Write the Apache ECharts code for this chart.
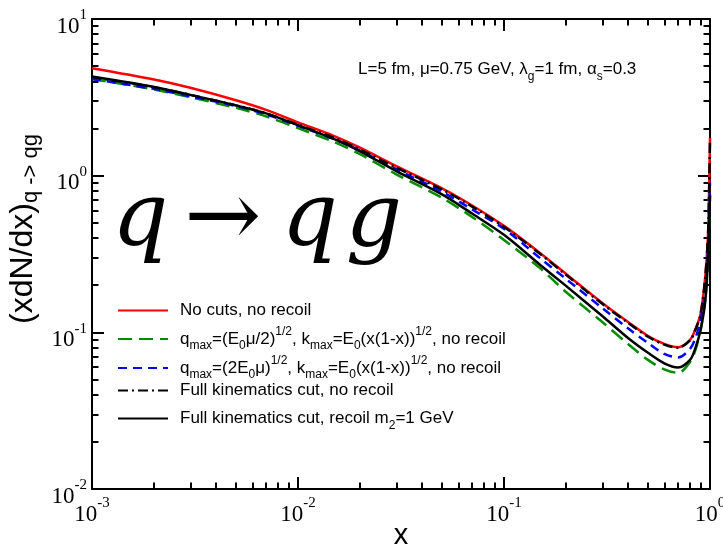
<!DOCTYPE html>
<html><head><meta charset="utf-8">
<script src="https://cdn.jsdelivr.net/npm/echarts@6/dist/echarts.min.js"></script>
<style>html,body{margin:0;padding:0;background:#fff}#c{width:723px;height:546px}</style>
</head><body><div id="c"></div>
<script>
// ---- data ----
const xValues = [0.001,0.002,0.003,0.005,0.007,0.01,0.015,0.02,0.03,0.05,0.07,0.1,0.15,0.2,0.3,0.4,0.5,0.6,0.7,0.8,0.85,0.9,0.95,0.98,0.99,1.0];
const noCuts       = [4.85,4.11,3.64,3.03,2.63,2.19,1.79,1.51,1.15,0.83,0.645,0.478,0.32,0.236,0.154,0.1164,0.0948,0.0843,0.0803,0.0895,0.105,0.131,0.232,0.45,0.81,1.74];
const qmaxHalf     = [4.14,3.55,3.17,2.71,2.39,2.01,1.64,1.37,1.02,0.722,0.545,0.389,0.256,0.181,0.1164,0.0843,0.0667,0.058,0.0551,0.0647,0.0773,0.1035,0.166,0.31,0.48,0.75];
const qmaxTwo      = [4.14,3.58,3.21,2.78,2.46,2.08,1.71,1.445,1.10,0.789,0.609,0.458,0.297,0.219,0.143,0.106,0.0855,0.0728,0.0692,0.0784,0.092,0.12,0.187,0.36,0.56,0.9];
const fullNoRecoil = [4.26,3.67,3.28,2.81,2.50,2.11,1.74,1.47,1.125,0.818,0.635,0.471,0.316,0.233,0.152,0.115,0.0938,0.0835,0.0797,0.0888,0.104,0.13,0.23,0.45,0.8,1.7];
const fullRecoil   = [4.29,3.68,3.28,2.81,2.50,2.10,1.71,1.43,1.07,0.76,0.573,0.419,0.269,0.198,0.127,0.092,0.074,0.0634,0.0597,0.0667,0.0796,0.1035,0.161,0.312,0.484,0.75];
const seriesNames = [
  'No cuts, no recoil',
  'q_max=(E_0 mu/2)^1/2, k_max=E_0(x(1-x))^1/2, no recoil',
  'q_max=(2E_0 mu)^1/2, k_max=E_0(x(1-x))^1/2, no recoil',
  'Full kinematics cut, no recoil',
  'Full kinematics cut, recoil m_2=1 GeV'
];
const legendRich = [
  '{t|No cuts, no recoil}',
  '{t|q}{sb|max}{t|=(E}{sb|0}{t|μ/2)}{sp|1/2}{t|, k}{sb|max}{t|=E}{sb|0}{t|(x(1-x))}{sp|1/2}{t|, no recoil}',
  '{t|q}{sb|max}{t|=(2E}{sb|0}{t|μ)}{sp|1/2}{t|, k}{sb|max}{t|=E}{sb|0}{t|(x(1-x))}{sp|1/2}{t|, no recoil}',
  '{t|Full kinematics cut, no recoil}',
  '{t|Full kinematics cut, recoil m}{sb|2}{t|=1 GeV}'
];
const xMin = 0.001, xMax = 1, yMin = 0.01, yMax = 10;
const xMinorTicks = [0.002,0.003,0.004,0.005,0.006,0.007,0.008,0.009,0.02,0.03,0.04,0.05,0.06,0.07,0.08,0.09,0.2,0.3,0.4,0.5,0.6,0.7,0.8,0.9];
const yMinorTicks = [0.02,0.03,0.04,0.05,0.06,0.07,0.08,0.09,0.2,0.3,0.4,0.5,0.6,0.7,0.8,0.9,2,3,4,5,6,7,8,9];
const annotationText = '{t|L=5 fm, μ=0.75 GeV, λ}{sb|g}{t|=1 fm, α}{sb|s}{t|=0.3}';
const bigLabel = '{q|q}{a|→}{q2|q}{q|g}';

// ---- styles ----
const colors = ['#ff0000','#008c00','#0000ff','#000000','#000000'];
const dashes = ['solid',[14,7],[9,6],[10,4,2,4],'solid'];
const legendIconY = [309,338,367,389,417];
const legendTopOffset = [7,12,12,7,7];
const sansRich = {
  t:{fontFamily:'Liberation Sans',fontSize:17,lineHeight:26,verticalAlign:'middle',color:'#000'},
  sp:{fontFamily:'Liberation Sans',fontSize:12,lineHeight:12,verticalAlign:'top',color:'#000'},
  sb:{fontFamily:'Liberation Sans',fontSize:12,lineHeight:12,verticalAlign:'bottom',color:'#000'}
};
const tickRich = {
  b:{fontFamily:'Liberation Serif',fontSize:23,lineHeight:30,verticalAlign:'bottom',color:'#000'},
  s:{fontFamily:'Liberation Serif',fontSize:15,lineHeight:15,verticalAlign:'top',color:'#000'}
};
const powLabel = v => '{b|10}{s|' + Math.round(Math.log10(v)) + '}';
const lineCol = '#000';

function axisPair(kind, pos, isMain){
  const min = kind==='x'?xMin:yMin, max = kind==='x'?xMax:yMax;
  const major = {
    type:'log', logBase:10, min, max, position:pos, gridIndex:0,
    nameMoveOverlap:false,
    axisLine:{show:true,onZero:false,lineStyle:{color:lineCol,width:2}},
    axisTick:{show:true,inside:true,length:12,lineStyle:{color:lineCol,width:2}},
    minorTick:{show:false}, splitLine:{show:false},
    axisLabel:{show:false}
  };
  if (isMain){
    major.axisLabel = kind==='x'
      ? {show:true,formatter:powLabel,rich:tickRich,margin:7}
      : {show:true,formatter:powLabel,rich:tickRich,margin:5,padding:[8,0,0,0]};
  }
  const minor = {
    type:'log', logBase:10, min, max, position:pos, gridIndex:0,
    axisLine:{show:false},
    axisTick:{show:true,inside:true,length:6.5,customValues:(kind==='x'?xMinorTicks:yMinorTicks),lineStyle:{color:lineCol,width:2}},
    axisLabel:{show:false}, splitLine:{show:false}
  };
  return [major, minor];
}

const xAxes = [...axisPair('x','bottom',true), ...axisPair('x','top',false)];
const yAxes = [...axisPair('y','left',true), ...axisPair('y','right',false)];
xAxes[0].name = 'x';
xAxes[0].nameLocation = 'middle';
xAxes[0].nameGap = 32;
xAxes[0].nameTextStyle = {fontFamily:'Liberation Sans',fontSize:29,color:'#000'};
yAxes[0].name = '{m|(xdN/dx)}{s|q -> qg}';
yAxes[0].nameLocation = 'middle';
yAxes[0].nameGap = 50;
yAxes[0].nameTextStyle = {
  padding:[0,0,0,50],
  rich:{
    m:{fontFamily:'Liberation Sans',fontSize:32,lineHeight:37,verticalAlign:'middle',color:'#000'},
    s:{fontFamily:'Liberation Sans',fontSize:22,lineHeight:22,verticalAlign:'bottom',color:'#000'}
  }
};

const allSeries = [noCuts,qmaxHalf,qmaxTwo,fullNoRecoil,fullRecoil];
const series = allSeries.map((arr,i)=>({
  name: seriesNames[i], type:'line', xAxisIndex:0, yAxisIndex:0,
  data: xValues.map((x,j)=>[x,arr[j]]),
  showSymbol:false, symbol:'none', smooth:0.3, clip:true,
  lineStyle:{color:colors[i],width:2.5,type:dashes[i]},
  itemStyle:{color:colors[i]},
  z: 2+i
}));

const legends = seriesNames.map((n,i)=>({
  data:[n], orient:'vertical', left:117, top:legendIconY[i]-legendTopOffset[i], padding:0,
  itemWidth:50, itemHeight:14,
  selectedMode:false,
  itemStyle:{opacity:0},
  formatter: ()=>legendRich[i],
  textStyle:{padding:[0,0,0,7],rich:sansRich}
}));

const chart = echarts.init(document.getElementById('c'), null, {renderer:'canvas'});
chart.setOption({
  animation:false,
  backgroundColor:'#fff',
  grid:{left:92,right:13,top:19,bottom:57,containLabel:false,outerBoundsMode:'none'},
  xAxis:xAxes, yAxis:yAxes,
  legend:legends,
  series,
  graphic:[
    {type:'text', left:358, top:61, style:{text:annotationText, rich:sansRich}},
    {type:'text', left:112, top:176, style:{text:bigLabel, rich:{
      q:{fontFamily:'DejaVu Serif',fontStyle:'italic',fontSize:88,lineHeight:100,color:'#000080'},
      q2:{fontFamily:'DejaVu Serif',fontStyle:'italic',fontSize:88,lineHeight:100,color:'#000080',padding:[0,8,0,0]},
      a:{fontFamily:'DejaVu Serif',fontSize:92,lineHeight:100,color:'#000080',padding:[0,20,0,16]}
    }}}
  ]
});
</script></body></html>
